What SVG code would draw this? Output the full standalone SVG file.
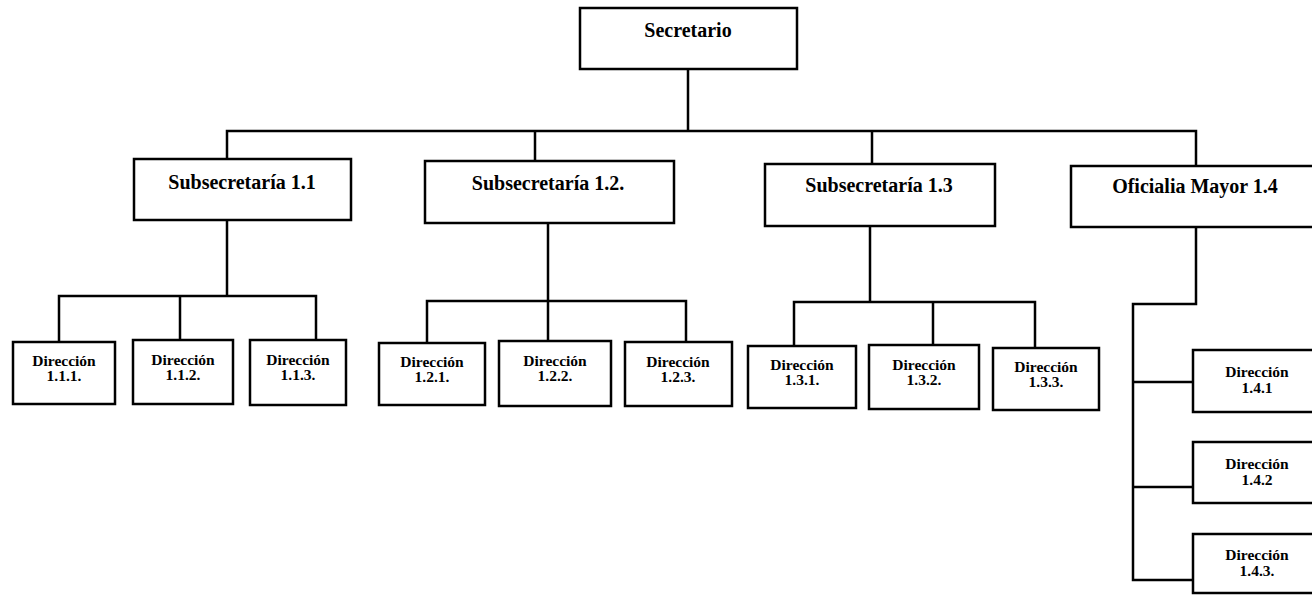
<svg xmlns="http://www.w3.org/2000/svg" width="1312" height="597" viewBox="0 0 1312 597">
<style>
.box{fill:#fff;stroke:#000;stroke-width:2.5}
.ln{fill:none;stroke:#000;stroke-width:2.5;stroke-linecap:square}
.t1{font-family:"Liberation Serif",serif;font-weight:bold;font-size:20px;text-anchor:middle;fill:#000}
.t2{font-family:"Liberation Serif",serif;font-weight:bold;font-size:15.5px;text-anchor:middle;fill:#000}
</style>
<rect width="1312" height="597" fill="#fff"/>
<g id="connectors">
<path class="ln" d="M688 69V131M227 131H1196M227 131V159M535 131V161M872 131V164M1196 131V166"/>
<path class="ln" d="M227 220V296M59 296H316M59 296V342M180 296V340M316 296V340"/>
<path class="ln" d="M548 223V301M427 301H686M427 301V343M548 301V341M686 301V342"/>
<path class="ln" d="M870 226V302M794 302H1035M794 302V346M933 302V345M1035 302V348"/>
<path class="ln" d="M1196 227V304H1133V580M1133 382H1193M1133 487H1193M1133 580H1193"/>
</g>
<g id="secretario"><rect class="box" x="580" y="8" width="217" height="61"/><text class="t1" x="688" y="37">Secretario</text></g>
<g id="sub11"><rect class="box" x="134" y="159" width="217" height="61"/><text class="t1" x="242" y="189">Subsecretaría 1.1</text></g>
<g id="sub12"><rect class="box" x="425" y="161" width="249" height="62"/><text class="t1" x="548" y="190">Subsecretaría 1.2.</text></g>
<g id="sub13"><rect class="box" x="765" y="164" width="230" height="62"/><text class="t1" x="879" y="192">Subsecretaría 1.3</text></g>
<g id="of14"><rect class="box" x="1071" y="166" width="248" height="61"/><text class="t1" x="1195" y="193">Oficialia Mayor 1.4</text></g>
<g id="d111"><rect class="box" x="13" y="342" width="102" height="62"/><text class="t2" x="64" y="366">Dirección</text><text class="t2" x="64" y="381">1.1.1.</text></g>
<g id="d112"><rect class="box" x="133" y="340" width="100" height="64"/><text class="t2" x="183" y="365">Dirección</text><text class="t2" x="183" y="380">1.1.2.</text></g>
<g id="d113"><rect class="box" x="250" y="340" width="96" height="65"/><text class="t2" x="298" y="365">Dirección</text><text class="t2" x="298" y="380">1.1.3.</text></g>
<g id="d121"><rect class="box" x="379" y="343" width="106" height="62"/><text class="t2" x="432" y="367">Dirección</text><text class="t2" x="432" y="382">1.2.1.</text></g>
<g id="d122"><rect class="box" x="499" y="341" width="112" height="65"/><text class="t2" x="555" y="366">Dirección</text><text class="t2" x="555" y="381">1.2.2.</text></g>
<g id="d123"><rect class="box" x="625" y="342" width="107" height="64"/><text class="t2" x="678" y="367">Dirección</text><text class="t2" x="678" y="382">1.2.3.</text></g>
<g id="d131"><rect class="box" x="748" y="346" width="108" height="62"/><text class="t2" x="802" y="370">Dirección</text><text class="t2" x="802" y="385">1.3.1.</text></g>
<g id="d132"><rect class="box" x="869" y="345" width="110" height="64"/><text class="t2" x="924" y="370">Dirección</text><text class="t2" x="924" y="385">1.3.2.</text></g>
<g id="d133"><rect class="box" x="993" y="348" width="106" height="62"/><text class="t2" x="1046" y="372">Dirección</text><text class="t2" x="1046" y="387">1.3.3.</text></g>
<g id="d141"><rect class="box" x="1193" y="350" width="128" height="62"/><text class="t2" x="1257" y="377">Dirección</text><text class="t2" x="1257" y="393">1.4.1</text></g>
<g id="d142"><rect class="box" x="1193" y="442" width="128" height="61"/><text class="t2" x="1257" y="469">Dirección</text><text class="t2" x="1257" y="485">1.4.2</text></g>
<g id="d143"><rect class="box" x="1193" y="534" width="128" height="59"/><text class="t2" x="1257" y="560">Dirección</text><text class="t2" x="1257" y="576">1.4.3.</text></g>
</svg>
